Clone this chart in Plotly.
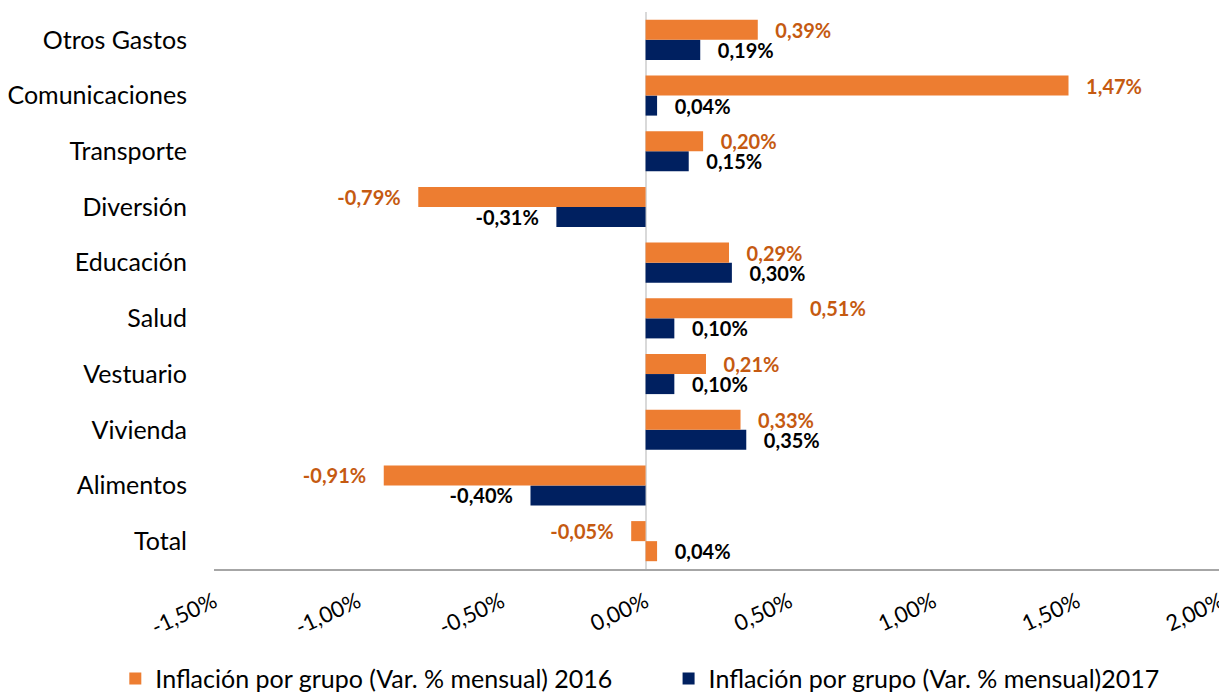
import plotly.graph_objects as go

categories = ["Otros Gastos", "Comunicaciones", "Transporte", "Diversión", "Educación",
              "Salud", "Vestuario", "Vivienda", "Alimentos", "Total"]
values_2016 = [0.39, 1.47, 0.20, -0.79, 0.29, 0.51, 0.21, 0.33, -0.91, -0.05]
values_2017 = [0.19, 0.04, 0.15, -0.31, 0.30, 0.10, 0.10, 0.35, -0.40, 0.04]
name_2016 = "Inflación por grupo (Var. % mensual) 2016"
name_2017 = "Inflación por grupo (Var. % mensual)2017"
x_ticks = [-1.5, -1.0, -0.5, 0.0, 0.5, 1.0, 1.5, 2.0]

ORANGE = "#ED7D31"
NAVY = "#002060"
ORANGE_TXT = "#C55A11"
FONT = "Lato"
PAD = "\u00a0\u00a0\u00a0"
LEG_PAD = "\u00a0" * 8


def fmt(v):
    s = f"{v:.2f}".replace(".", ",") + "%"
    return PAD + s if v >= 0 else s + PAD


colors_2017 = [ORANGE if c == "Total" else NAVY for c in categories]

fig = go.Figure()
fig.add_trace(go.Bar(
    y=categories, x=values_2017, orientation="h", name=name_2017,
    marker=dict(color=colors_2017, line=dict(width=0)),
    text=[fmt(v) for v in values_2017], textposition="outside",
    constraintext="none",
    textfont=dict(family=FONT, size=20, color="#000000", weight="bold"),
    cliponaxis=False, legendrank=2,
))
fig.add_trace(go.Bar(
    y=categories, x=values_2016, orientation="h", name=name_2016 + LEG_PAD,
    marker=dict(color=ORANGE, line=dict(width=0)),
    text=[fmt(v) for v in values_2016], textposition="outside",
    constraintext="none",
    textfont=dict(family=FONT, size=20, color=ORANGE_TXT, weight="bold"),
    cliponaxis=False, legendrank=1,
))

fig.update_layout(
    width=1219, height=687,
    margin=dict(l=206, r=6, t=4, b=126, autoexpand=False),
    paper_bgcolor="white", plot_bgcolor="white",
    barmode="group", bargap=0.28, bargroupgap=0,
    font=dict(family=FONT, size=24, color="#000000"),
    legend=dict(orientation="h", xref="paper", yref="paper",
                x=-0.098, xanchor="left", y=-0.197, yanchor="middle",
                font=dict(family=FONT, size=25)),
    showlegend=True,
)
fig.update_xaxes(
    range=[-1.5, 2.0], tickvals=x_ticks,
    ticktext=[f"{v:.2f}".replace(".", ",") + "%" for v in x_ticks],
    tickangle=-25, tickfont=dict(family=FONT, size=22, color="#000000"),
    showgrid=False, zeroline=True, zerolinecolor="#D9D9D9", zerolinewidth=2,
    showline=True, linecolor="#A6A6A6", linewidth=1.5,
    ticks="", ticklabelstandoff=10, automargin=False,
    ticklabeloverflow="allow",
)
fig.update_yaxes(
    categoryorder="array", categoryarray=categories[::-1],
    showgrid=False, zeroline=False, showline=False, ticks="",
    tickfont=dict(family=FONT, size=25, color="#000000"),
    ticklabelstandoff=26, automargin=False,
)

fig.write_html("out.html")
